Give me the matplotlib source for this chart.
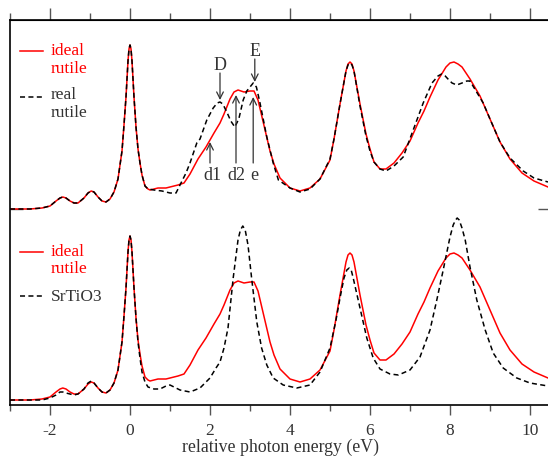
import matplotlib
matplotlib.use("Agg")
from matplotlib import pyplot as plt
from matplotlib.ticker import MultipleLocator

plt.rcParams['font.family'] = ['Liberation Serif', 'DejaVu Serif']
plt.rcParams['font.size'] = 12
plt.rcParams['axes.unicode_minus'] = False

# ideal rutile (mesma curva nos dois paineis)
e_ideal = [-3.0, -2.5, -2.2, -2.0, -1.85, -1.75, -1.68, -1.6, -1.5, -1.4, -1.3, -1.15, -1.05,
           -0.97, -0.9, -0.8, -0.7, -0.6, -0.5, -0.4, -0.3, -0.2, -0.15, -0.1, -0.05, -0.025,
           0.0, 0.025, 0.05, 0.1, 0.15, 0.2, 0.25, 0.3, 0.375, 0.45, 0.5, 0.7, 0.9, 1.0, 1.2,
           1.35, 1.5, 1.7, 1.9, 2.0, 2.1, 2.25, 2.35, 2.5, 2.6, 2.7, 2.85, 3.0, 3.1, 3.2,
           3.3, 3.4, 3.5, 3.6, 3.75, 4.0, 4.25, 4.5, 4.75, 5.0, 5.1, 5.25, 5.4, 5.45, 5.5,
           5.55, 5.6, 5.75, 5.9, 6.0, 6.1, 6.25, 6.4, 6.6, 6.8, 7.0, 7.2, 7.35, 7.5, 7.7,
           7.9, 8.0, 8.1, 8.2, 8.3, 8.5, 8.75, 9.0, 9.25, 9.5, 9.8, 10.1, 10.45]
i_ideal = [0, 0, 1, 3, 8, 11, 12, 11, 8, 6, 6, 11, 16,
           18, 17, 12, 8, 7, 10, 17, 30, 58, 84, 112, 148, 160,
           164, 160, 148, 112, 82, 60, 46, 34, 23, 20, 19, 21, 21, 22, 24,
           26, 35, 50, 62, 69, 76, 86, 95, 110, 117, 119, 117, 118, 118, 109,
           92, 75, 58, 45, 31, 21, 18, 21, 30, 49, 70, 105, 138, 145, 147,
           145, 138, 105, 75, 60, 47, 40, 40, 46, 56, 68, 86, 98, 112, 129,
           142, 146, 147, 145, 142, 130, 113, 90, 67, 50, 36, 28, 22]

# real rutile
e_real = [-3.0, -2.5, -2.2, -2.0, -1.85, -1.75, -1.68, -1.6, -1.5, -1.4, -1.3, -1.15, -1.05,
          -0.97, -0.9, -0.8, -0.7, -0.6, -0.5, -0.4, -0.3, -0.2, -0.15, -0.1, -0.05, -0.025,
          0.0, 0.025, 0.05, 0.1, 0.15, 0.2, 0.25, 0.3, 0.375, 0.45, 0.6, 0.8, 1.0, 1.15,
          1.25, 1.4, 1.5, 1.67, 1.75, 1.92, 2.08, 2.18, 2.25, 2.32, 2.42, 2.52, 2.62, 2.72,
          2.83, 2.92, 3.0, 3.08, 3.16, 3.25, 3.42, 3.58, 3.71, 4.0, 4.25, 4.5, 4.75, 5.0,
          5.1, 5.25, 5.4, 5.45, 5.5, 5.55, 5.6, 5.75, 5.9, 6.0, 6.1, 6.25, 6.4, 6.6, 6.83,
          7.08, 7.33, 7.55, 7.7, 7.79, 7.88, 7.95, 8.05, 8.17, 8.3, 8.42, 8.5, 8.65, 8.83,
          9.0, 9.25, 9.5, 9.83, 10.1, 10.45]
i_real = [0, 0, 1, 3, 8, 11, 12, 11, 8, 6, 6, 11, 16,
          18, 17, 12, 8, 7, 10, 17, 30, 58, 84, 112, 148, 160,
          164, 160, 148, 112, 82, 60, 46, 34, 23, 20, 19, 18, 16, 16,
          24, 36, 46, 66, 70, 89, 101, 106, 107, 105, 97, 88, 82, 90,
          109, 118, 122, 126, 122, 106, 72, 46, 29, 21, 17, 20, 30, 50,
          70, 105, 138, 144, 146, 144, 138, 103, 73, 58, 47, 40, 38, 43, 52,
          79, 106, 126, 133, 135, 133, 130, 126, 124, 126, 128, 128, 118, 106,
          90, 67, 51, 38, 31, 27]

# SrTiO3
e_sto = [-3.0, -2.5, -2.2, -2.0, -1.85, -1.75, -1.68, -1.6, -1.5, -1.4, -1.3, -1.15, -1.05,
         -0.97, -0.9, -0.8, -0.7, -0.6, -0.5, -0.4, -0.3, -0.2, -0.15, -0.1, -0.05, -0.025,
         0.0, 0.025, 0.05, 0.1, 0.15, 0.2, 0.25, 0.3, 0.375, 0.45, 0.6, 0.75, 0.9, 1.0, 1.1,
         1.25, 1.5, 1.75, 2.0, 2.15, 2.25, 2.35, 2.45, 2.58, 2.7, 2.76, 2.82, 2.88, 2.95,
         3.04, 3.17, 3.29, 3.42, 3.58, 3.83, 4.17, 4.5, 4.75, 5.0, 5.15, 5.25, 5.35, 5.42,
         5.48, 5.53, 5.58, 5.75, 5.92, 6.08, 6.25, 6.5, 6.71, 7.0, 7.25, 7.5, 7.67, 7.83,
         8.0, 8.08, 8.14, 8.18, 8.23, 8.3, 8.38, 8.5, 8.67, 8.88, 9.08, 9.33, 9.67, 10.0,
         10.45]
i_sto = [0, 0, 0, 2, 5, 8, 8, 7, 6, 5, 6, 11, 17,
         19, 17, 12, 8, 7, 10, 17, 30, 58, 84, 112, 148, 160,
         164, 160, 148, 112, 82, 58, 42, 28, 18, 13, 11, 11, 14, 15, 13,
         10, 8, 12, 22, 32, 38, 52, 72, 122, 160, 170, 174, 170, 155,
         122, 78, 52, 35, 22, 15, 12, 15, 28, 52, 80, 102, 122, 130,
         132, 130, 122, 92, 62, 42, 31, 26, 25, 30, 43, 70, 100, 130,
         163, 175, 180, 182, 180, 172, 160, 133, 100, 70, 47, 32, 22, 17,
         14]

# deslocamento vertical de cada painel
off_top = 196
off_bot = 5

red = '#ff0000'
gray = '#333333'

fig = plt.figure(figsize=(5.48, 4.57), dpi=100)
ax = fig.add_axes([10 / 548, 52 / 457, 540 / 548, 385 / 457])

ax.plot(e_ideal, [v + off_top for v in i_ideal], color=red, lw=1.1)
ax.plot(e_real, [v + off_top for v in i_real], color='k', lw=1.1, dashes=[3.3, 2.2])
ax.plot(e_ideal, [v + off_bot for v in i_ideal], color=red, lw=1.1)
ax.plot(e_sto, [v + off_bot for v in i_sto], color='k', lw=1.1, dashes=[3.3, 2.2])

ax.set_xlim(-3, 10.5)
ax.set_ylim(0, 385)

ax.xaxis.set_major_locator(MultipleLocator(2))
ax.xaxis.set_minor_locator(MultipleLocator(1))
ax.tick_params(axis='x', which='major', direction='out', length=7, width=1, color='#555555',
               labelcolor=gray, pad=6, labelsize=12.5)
ax.tick_params(axis='x', which='minor', direction='out', length=4, width=1, color='#555555')
ax.set_xlabel('relative photon energy (eV)', color=gray, labelpad=0, fontsize=12.8)

sec = ax.secondary_xaxis('top')
sec.xaxis.set_major_locator(MultipleLocator(2))
sec.xaxis.set_minor_locator(MultipleLocator(1))
sec.tick_params(which='major', direction='out', length=9, width=1, color='#555555', labeltop=False)
sec.tick_params(which='minor', direction='out', length=5, width=1, color='#555555')

ax.set_yticks([off_top])
ax.tick_params(axis='y', direction='in', length=9, width=1, left=True, right=True,
               labelleft=False, color='#555555')

for s in ax.spines.values():
    s.set_linewidth(1.2)

# legendas
ax.plot([0.019, 0.061], [0.92, 0.92], transform=ax.transAxes, color=red, lw=1.1)
ax.text(0.075, 0.939, 'ideal\nrutile', transform=ax.transAxes, color=red, va='top',
        ha='left', linespacing=1.1, fontsize=12.5)
ax.plot([0.019, 0.061], [0.8, 0.8], transform=ax.transAxes, color='k', lw=1.1, dashes=[3.3, 2.2])
ax.text(0.075, 0.825, 'real\nrutile', transform=ax.transAxes, color=gray, va='top',
        ha='left', linespacing=1.1, fontsize=12.5)

ax.plot([0.019, 0.061], [0.398, 0.398], transform=ax.transAxes, color=red, lw=1.1)
ax.text(0.075, 0.418, 'ideal\nrutile', transform=ax.transAxes, color=red, va='top',
        ha='left', linespacing=1.1, fontsize=12.5)
ax.plot([0.019, 0.061], [0.282, 0.282], transform=ax.transAxes, color='k', lw=1.1, dashes=[3.3, 2.2])
ax.text(0.075, 0.280, 'SrTiO3', transform=ax.transAxes, color=gray, va='center',
        ha='left', fontsize=12.5)

# anotacoes
arr = dict(arrowstyle='->', color=gray, lw=0.9, shrinkA=0, shrinkB=0)
ax.annotate('', xy=(2.25, 305), xytext=(2.25, 332), arrowprops=arr)
ax.text(2.25, 340, 'D', ha='center', va='center', color=gray, fontsize=13)
ax.annotate('', xy=(3.12, 323), xytext=(3.12, 346), arrowprops=arr)
ax.text(3.12, 353, 'E', ha='center', va='center', color=gray, fontsize=13)

ax.annotate('', xy=(2.0, 263), xytext=(2.0, 242), arrowprops=arr)
ax.text(2.05, 229, 'd1', ha='center', va='center', color=gray, fontsize=13)
ax.annotate('', xy=(2.65, 310), xytext=(2.65, 242), arrowprops=arr)
ax.text(2.65, 229, 'd2', ha='center', va='center', color=gray, fontsize=13)
ax.annotate('', xy=(3.08, 308), xytext=(3.08, 242), arrowprops=arr)
ax.text(3.12, 229, 'e', ha='center', va='center', color=gray, fontsize=13)

fig.savefig('out.png', dpi=100)
